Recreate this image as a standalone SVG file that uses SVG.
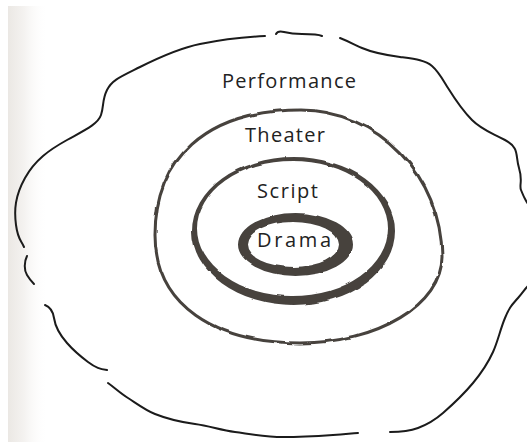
<svg xmlns="http://www.w3.org/2000/svg" width="527" height="442" viewBox="0 0 527 442">
  <defs>
    <linearGradient id="page" x1="0" y1="0" x2="1" y2="0">
      <stop offset="0" stop-color="#ebe8e4"/>
      <stop offset="0.4" stop-color="#f4f2f0"/>
      <stop offset="1" stop-color="#ffffff" stop-opacity="0"/>
    </linearGradient>
    <filter id="rough" x="-10%" y="-10%" width="120%" height="120%">
      <feTurbulence type="fractalNoise" baseFrequency="0.05" numOctaves="2" seed="4"/>
      <feDisplacementMap in="SourceGraphic" scale="3" xChannelSelector="R" yChannelSelector="G"/>
    </filter>
    <style>
      .outer { fill: none; stroke: #1b1b1b; stroke-width: 2; stroke-linecap: round; stroke-linejoin: round; }
      .ring { fill: #46423e; fill-rule: evenodd; stroke: none; }
      .thin { fill: none; stroke: #46423e; stroke-width: 3; }
      .label { font-family: "Open Sans", "DejaVu Sans", sans-serif; fill: #222222; font-size: 20px; font-weight: 500; }
    </style>
  </defs>

  <rect x="0" y="0" width="527" height="442" fill="#ffffff"/>
  <rect x="8" y="6" width="40" height="436" fill="url(#page)"/>

  <g id="performance">
    <path class="outer" d="M265,36 C245,37 220,40 200,44 S160,57 140,67 S112,80 107,90 S104,106 101,115 S85,130 67,140 S35,160 25,178 S14,210 16,225 S21,240 24,247"/>
    <path class="outer" d="M276,34 C277,32 280,31 284,32 S295,34 302,34 S318,34 322,36"/>
    <path class="outer" d="M340,38 C350,42 355,45 362,48 S385,55 400,57 S425,60 432,66 S443,80 448,88 S462,110 472,120 S490,132 505,140 S515,155 519,168 S519,185 521,190 S525,200 528,204"/>
    <path class="outer" d="M27,256 C24,262 24,270 27,275 S31,281 34,284"/>
    <path class="outer" d="M45,305 C50,307 53,311 54,318 S60,335 67,343 S80,356 88,362 S100,369 107,370"/>
    <path class="outer" d="M108,383 C115,388 120,393 128,398 S145,410 155,414 S180,422 195,424 S220,430 235,432 S265,437 283,437 S318,436 333,435 S352,433 358,433"/>
    <path class="outer" d="M390,432 C400,432 410,431 418,428 S435,420 443,413 S463,395 473,383 S488,363 493,352 S500,330 505,318 S512,305 518,298 S524,290 528,286"/>
    <text class="label" x="222" y="88" textLength="134" lengthAdjust="spacing">Performance</text>
  </g>

  <g id="theater">
    <path class="thin" filter="url(#rough)" d="M300,110 C378,110 442,176 442,257 C442,304 378,343 300,343 C215,343 155,305 155,235 C155,160 205,110 300,110 Z"/>
    <text class="label" x="245" y="142" textLength="80" lengthAdjust="spacing">Theater</text>
  </g>

  <g id="script">
    <path class="ring" filter="url(#rough)" d="M192,231 A101.5,74 0 1,0 395,231 A101.5,74 0 1,0 192,231 Z M197,228.5 A95.5,67.5 0 1,0 388,228.5 A95.5,67.5 0 1,0 197,228.5 Z"/>
    <text class="label" x="257" y="198" textLength="61" lengthAdjust="spacing">Script</text>
  </g>

  <g id="drama">
    <path class="ring" filter="url(#rough)" d="M238,244.5 A57.5,31.5 0 1,0 353,244.5 A57.5,31.5 0 1,0 238,244.5 Z M247,244.5 A46,22.5 0 1,0 339,244.5 A46,22.5 0 1,0 247,244.5 Z"/>
    <text class="label" x="257" y="247" textLength="74" lengthAdjust="spacing">Drama</text>
  </g>
</svg>
